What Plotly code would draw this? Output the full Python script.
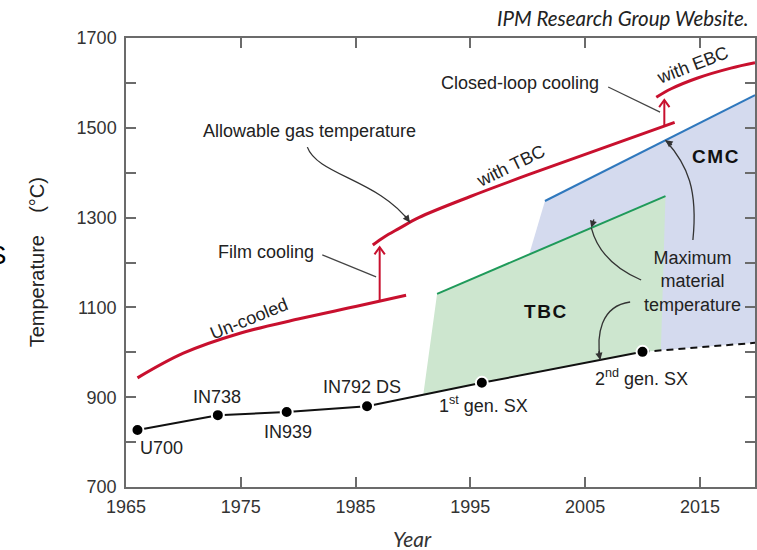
import numpy as np
import plotly.graph_objects as go

# ---- Allowable gas temperature (red curves) ----
uncooled_years = [1966, 1970, 1975, 1980, 1985, 1989.4]
uncooled_temp = [943, 998, 1043, 1074, 1102, 1127]

tbc_gas_years = [1986.5, 1987.5, 1988.8, 1990.5, 1995, 2000, 2005, 2012.8]
tbc_gas_temp = [1239, 1257, 1276, 1300, 1347, 1395, 1441, 1512]

ebc_gas_years = [2011.2, 2012.5, 2014.8, 2017.7, 2019.8]
ebc_gas_temp = [1568, 1587, 1611, 1633, 1645]

# cooling step-ups (year, top of arrow)
film_cooling_year, film_cooling_top = 1987.1, 1234
closed_loop_year, closed_loop_top = 2011.9, 1562

# ---- Maximum material temperature (superalloys) ----
alloy_names = ["U700", "IN738", "IN939", "IN792 DS", "1<sup>st</sup> gen. SX", "2<sup>nd</sup> gen. SX"]
alloy_years = [1966, 1973, 1979, 1986, 1996, 2010]
alloy_temp = [827, 860, 867, 880, 932, 1001]
future_years = [2010, 2019.8]
future_temp = [1001, 1021]

# ---- Coating / CMC material limits ----
tbc_limit_years = [1992.1, 2012.0]
tbc_limit_temp = [1130, 1348]
tbc_zone_start, tbc_zone_end = 1990.9, 2011.6

cmc_limit_years = [2001.5, 2019.8]
cmc_limit_temp = [1337, 1573]
cmc_hidden_corner = (1999.8, 1190)

RED = "#c8102e"
GREEN_LINE = "#1f9a5a"
GREEN_FILL = "#cde6cf"
BLUE_LINE = "#2f78bd"
BLUE_FILL = "#d4daee"
TEXT = "#222222"
AXIS = "#6b6b6b"
FONT = "Liberation Sans, Arial, sans-serif"
LABEL_SIZE = 18
HAIR = "\u200a"

mat_x = np.array(alloy_years + future_years[1:], dtype=float)
mat_y = np.array(alloy_temp + future_temp[1:], dtype=float)


def material_at(x):
    return float(np.interp(x, mat_x, mat_y))


fig = go.Figure()

# CMC region (drawn first, partly covered by the TBC region)
cmc_x = [cmc_limit_years[0], cmc_limit_years[1], cmc_limit_years[1], alloy_years[-1], cmc_hidden_corner[0]]
cmc_y = [cmc_limit_temp[0], cmc_limit_temp[1], material_at(cmc_limit_years[1]), alloy_temp[-1], cmc_hidden_corner[1]]
fig.add_trace(go.Scatter(x=cmc_x, y=cmc_y, fill="toself", fillcolor=BLUE_FILL,
                         mode="none", hoverinfo="skip"))

# TBC region bounded below by the superalloy line
inner = [(yr, t) for yr, t in zip(mat_x, mat_y) if tbc_zone_start < yr < tbc_zone_end]
tbc_x = [tbc_zone_start, tbc_limit_years[0], tbc_limit_years[1], tbc_zone_end]
tbc_y = [material_at(tbc_zone_start), tbc_limit_temp[0], tbc_limit_temp[1], material_at(tbc_zone_end)]
for yr, t in reversed(inner):
    tbc_x.append(yr)
    tbc_y.append(t)
fig.add_trace(go.Scatter(x=tbc_x, y=tbc_y, fill="toself", fillcolor=GREEN_FILL,
                         mode="none", hoverinfo="skip"))

fig.add_trace(go.Scatter(x=cmc_limit_years, y=cmc_limit_temp, mode="lines",
                         line=dict(color=BLUE_LINE, width=2)))
fig.add_trace(go.Scatter(x=tbc_limit_years, y=tbc_limit_temp, mode="lines",
                         line=dict(color=GREEN_LINE, width=2)))

# superalloy line
fig.add_trace(go.Scatter(x=future_years, y=future_temp, mode="lines",
                         line=dict(color="#111111", width=2, dash="7px,5px")))
fig.add_trace(go.Scatter(x=alloy_years, y=alloy_temp, mode="lines+markers",
                         line=dict(color="#111111", width=2),
                         marker=dict(size=12, color="#000000", line=dict(color="white", width=2))))

# gas temperature curves
for xs, ys in [(uncooled_years, uncooled_temp), (tbc_gas_years, tbc_gas_temp), (ebc_gas_years, ebc_gas_temp)]:
    fig.add_trace(go.Scatter(x=xs, y=ys, mode="lines", line=dict(color=RED, width=3, shape="spline")))


def step_arrow(year, base, top):
    fig.add_trace(go.Scatter(x=[year, year], y=[base, top], mode="lines",
                             line=dict(color=RED, width=2)))
    hw, hh = 0.45, 16
    fig.add_trace(go.Scatter(x=[year - hw, year, year + hw], y=[top - hh, top, top - hh],
                             mode="lines", line=dict(color=RED, width=2)))


step_arrow(film_cooling_year, float(np.interp(film_cooling_year, uncooled_years, uncooled_temp)), film_cooling_top)
step_arrow(closed_loop_year, float(np.interp(closed_loop_year, tbc_gas_years, tbc_gas_temp)), closed_loop_top)

shapes = []
annotations = []


def curved_leader(start, c1, c2, tip, head):
    shapes.append(dict(type="path", xref="x", yref="y",
                       path=f"M {start[0]},{start[1]} C {c1[0]},{c1[1]} {c2[0]},{c2[1]} {tip[0]},{tip[1]}",
                       line=dict(color="#333333", width=1.3)))
    annotations.append(dict(x=tip[0], y=tip[1], ax=head[0], ay=head[1], text="", showarrow=True,
                            arrowhead=2, arrowsize=1.1, arrowwidth=1.3, arrowcolor="#333333",
                            standoff=0, startstandoff=0))


def straight_leader(p0, p1):
    shapes.append(dict(type="line", xref="x", yref="y", x0=p0[0], y0=p0[1], x1=p1[0], y1=p1[1],
                       line=dict(color="#444444", width=1.2)))


gas_tip_year = 1989.74
curved_leader((1980.80, 1457), (1981.67, 1395), (1987.05, 1384),
              (gas_tip_year, float(np.interp(gas_tip_year, tbc_gas_years, tbc_gas_temp))), (-6, -8))
cmc_tip_year = 2012.0
curved_leader((2014.39, 1250), (2014.83, 1361), (2013.96, 1417),
              (cmc_tip_year, float(np.interp(cmc_tip_year, cmc_limit_years, cmc_limit_temp))), (8, 6))
tbc_tip_year = 2005.54
curved_leader((2009.88, 1161), (2007.88, 1183), (2006.15, 1217),
              (tbc_tip_year, float(np.interp(tbc_tip_year, tbc_limit_years, tbc_limit_temp))), (3, -10))
mat_tip_year = 2006.32
curved_leader((2008.92, 1112), (2006.32, 1103), (2005.97, 1038),
              (mat_tip_year, material_at(mat_tip_year)), (-2, -10))

straight_leader((1982.10, 1217), (1986.79, 1168))
straight_leader((2007.01, 1591), (2011.53, 1535))


def label(x, y, text, size=LABEL_SIZE, angle=0, bold=False, xanchor="center", color=TEXT):
    annotations.append(dict(x=x, y=y, text=f"<b>{text}</b>" if bold else text, showarrow=False,
                            textangle=angle, xanchor=xanchor, yanchor="middle",
                            font=dict(family=FONT, size=size, color=color)))


label(1980.97, 1493, "Allowable gas temperature")
label(1977.24, 1223, "Film cooling")
label(1999.33, 1600, "Closed-loop cooling")
label(1975.68, 1074, "Un-cooled", angle=-22)
label(1998.51, 1414, "with TBC", angle=-26)
label(2014.39, 1640, "with EBC", angle=-21)
label(2016.40, 1437, HAIR.join("CMC"), size=19, bold=True, color="#111111")
label(2001.55, 1090, HAIR.join("TBC"), size=19, bold=True, color="#111111")
label(2014.39, 1157, "Maximum<br>material<br>temperature")

alloy_label_pos = [(1968.08, 787), (1972.94, 900), (1979.15, 822), (1985.57, 923), (1996.16, 883), (2009.88, 943)]
for name, (lx, ly) in zip(alloy_names, alloy_label_pos):
    label(lx, ly, name)

# axis titles and caption
annotations.append(dict(xref="paper", yref="paper", x=-0.141, y=0.501,
                        text="Temperature\u00a0\u00a0\u00a0\u00a0(°C)",
                        textangle=-90, showarrow=False, xanchor="center", yanchor="middle",
                        font=dict(family=FONT, size=20, color=TEXT)))
annotations.append(dict(xref="paper", yref="paper", x=0.455, y=-0.114, text="<i>Year</i>",
                        showarrow=False, xanchor="center", yanchor="middle",
                        font=dict(family="Lato, Open Sans, sans-serif", size=21, color="#333333")))
annotations.append(dict(xref="paper", yref="paper", x=0.9937, y=1.0445, text="<i>IPM Research Group Website.</i>",
                        showarrow=False, xanchor="right", yanchor="middle",
                        font=dict(family="Lato, Open Sans, sans-serif", size=20.5, color="#222222")))
annotations.append(dict(xref="paper", yref="paper", x=-0.205, y=0.517, text="S",
                        showarrow=False, xanchor="center", yanchor="middle",
                        font=dict(family=FONT, size=26, color="#000000")))

y_ticks = list(range(700, 1701, 100))
y_tick_text = [str(v) if v % 200 == 100 else "" for v in y_ticks]
x_ticks = [1965, 1975, 1985, 1995, 2005, 2015]

fig.update_layout(
    width=757, height=550,
    margin=dict(l=126, r=0, t=38, b=63),
    paper_bgcolor="white", plot_bgcolor="white",
    showlegend=False,
    shapes=shapes,
    annotations=annotations,
    xaxis=dict(range=[1965, 2019.8], tickvals=x_ticks, ticks="inside", ticklen=10, tickwidth=1.5,
               tickcolor=AXIS, showline=True, linecolor=AXIS, linewidth=1.5, mirror="ticks",
               showgrid=False, zeroline=False, ticklabelstandoff=3,
               tickfont=dict(family=FONT, size=18, color="#333333")),
    yaxis=dict(range=[700, 1700], tickvals=y_ticks, ticktext=y_tick_text, ticks="inside", ticklen=10,
               tickwidth=1.5, tickcolor=AXIS, showline=True, linecolor=AXIS, linewidth=1.5, mirror="ticks",
               showgrid=False, zeroline=False, ticklabelstandoff=4,
               tickfont=dict(family=FONT, size=18, color="#333333")),
)

fig.write_html("out.html")
